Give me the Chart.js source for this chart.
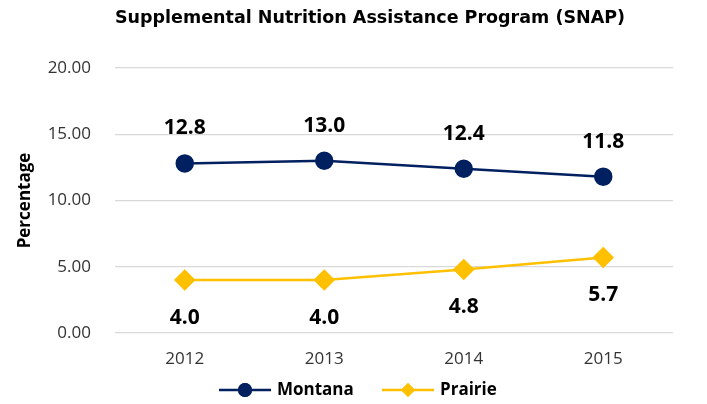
<!DOCTYPE html>
<html>
<head>
<meta charset="utf-8">
<script src="https://cdn.jsdelivr.net/npm/chart.js@4"></script>
<style>
  html, body { margin: 0; padding: 0; background: #fff; }
  #wrap { width: 707px; height: 404px; }
</style>
</head>
<body>
<div id="wrap"><canvas id="grafica" width="707" height="404"></canvas></div>
<script>
// datos
const years = ['2012', '2013', '2014', '2015'];
const montana = [12.8, 13.0, 12.4, 11.8];
const prairie = [4.0, 4.0, 4.8, 5.7];
const yTicks = [0, 5, 10, 15, 20];
const titulo = 'Supplemental Nutrition Assistance Program (SNAP)';

const FONT = '"Open Sans", sans-serif';
const NAVY = '#002060';
const GOLD = '#FFC000';

// titulo dibujado a mano (el original no esta centrado en el lienzo)
const cabecera = {
  id: 'cabecera',
  afterDraw(chart) {
    const ctx = chart.ctx;
    ctx.save();
    ctx.font = 'bold 17.5px "DejaVu Sans", sans-serif';
    ctx.fillStyle = '#000';
    ctx.textAlign = 'center';
    ctx.textBaseline = 'middle';
    ctx.fillText(titulo, 370, 18);
    ctx.restore();
  }
};

// etiquetas de valor encima / debajo de cada punto
const etiquetas = {
  id: 'etiquetas',
  afterDatasetsDraw(chart) {
    const ctx = chart.ctx;
    ctx.save();
    ctx.font = 'bold 21px ' + FONT;
    ctx.fillStyle = '#000';
    ctx.textAlign = 'center';
    ctx.textBaseline = 'middle';
    chart.data.datasets.forEach((ds, i) => {
      const meta = chart.getDatasetMeta(i);
      meta.data.forEach((pt, j) => {
        const dy = ds.labelPos === 'above' ? -35 : 38;
        ctx.fillText(ds.data[j].toFixed(1), pt.x, pt.y + dy);
      });
    });
    ctx.restore();
  }
};

// leyenda con linea + marcador
const leyenda = {
  id: 'leyenda',
  afterDraw(chart) {
    const ctx = chart.ctx;
    const y = 390;
    const items = [
      { x: 219, label: 'Montana', color: NAVY, style: 'circle' },
      { x: 382, label: 'Prairie', color: GOLD, style: 'rectRot' }
    ];
    ctx.save();
    ctx.font = 'bold 17px ' + FONT;
    ctx.textBaseline = 'middle';
    items.forEach(it => {
      ctx.strokeStyle = it.color;
      ctx.lineWidth = 2.5;
      ctx.beginPath();
      ctx.moveTo(it.x, y);
      ctx.lineTo(it.x + 52, y);
      ctx.stroke();
      ctx.fillStyle = it.color;
      Chart.helpers.drawPoint(ctx, { pointStyle: it.style, radius: 7, rotation: 0, borderWidth: 0 }, it.x + 26, y);
      ctx.fill();
      ctx.fillStyle = '#000';
      ctx.fillText(it.label, it.x + 58, y);
    });
    ctx.restore();
  }
};

new Chart(document.getElementById('grafica'), {
  type: 'line',
  data: {
    labels: years,
    datasets: [
      {
        label: 'Montana', data: montana, labelPos: 'above',
        borderColor: NAVY, backgroundColor: NAVY, borderWidth: 2.5,
        pointStyle: 'circle', pointRadius: 8, pointHoverRadius: 8
      },
      {
        label: 'Prairie', data: prairie, labelPos: 'below',
        borderColor: GOLD, backgroundColor: GOLD, borderWidth: 2.5,
        pointStyle: 'rectRot', pointRadius: 9, pointHoverRadius: 9
      }
    ]
  },
  options: {
    responsive: false,
    animation: false,
    layout: { padding: { left: 15, right: 34, top: 68, bottom: 0 } },
    plugins: {
      legend: { display: false },
      tooltip: { enabled: false },
      title: { display: false }
    },
    scales: {
      x: {
        offset: true,
        grid: { display: false },
        border: { display: false },
        ticks: { color: '#333', font: { family: FONT, size: 17 }, padding: 8 },
        afterFit(s) { s.height = 71; }
      },
      y: {
        min: 0, max: 20,
        afterBuildTicks(s) { s.ticks = yTicks.map(v => ({ value: v })); },
        grid: { color: '#d9d9d9', lineWidth: 1.3, drawTicks: false },
        border: { display: false },
        ticks: {
          color: '#333', font: { family: FONT, size: 17 }, padding: 24,
          callback: v => v.toFixed(2)
        },
        title: {
          display: true, text: 'Percentage', color: '#000',
          font: { family: FONT, size: 17, weight: 'bold' }, padding: 0
        },
        afterFit(s) { s.width = 100; }
      }
    }
  },
  plugins: [cabecera, etiquetas, leyenda]
});
</script>
</body>
</html>
